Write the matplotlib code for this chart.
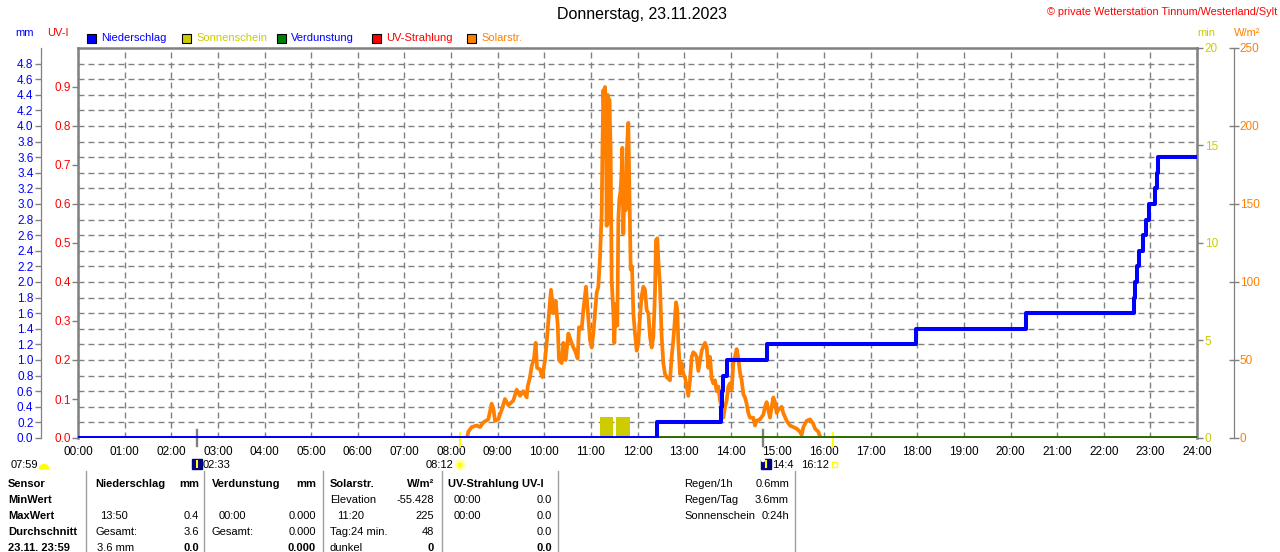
import numpy as np
import matplotlib
matplotlib.use('Agg')
from matplotlib import pyplot as plt
from matplotlib.patches import Rectangle, Circle, Wedge
from matplotlib.lines import Line2D
from matplotlib.transforms import IdentityTransform

plt.rcParams['font.family'] = ['Liberation Sans', 'DejaVu Sans']

W, H = 1280, 552

# ---- Daten ----
hours = list(range(25))
hour_labels = ['%02d:00' % h for h in hours]

# Niederschlag, Tagessumme in mm (Stufen)
rain_t = [0.0, 12.42, 13.80, 13.82, 13.84, 13.91, 14.77, 17.97, 20.33,
          22.65, 22.68, 22.72, 22.76, 22.85, 22.91, 22.96, 23.10, 23.14, 23.17, 24.0]
rain_mm = [0.0, 0.2, 0.4, 0.6, 0.8, 1.0, 1.2, 1.4, 1.6,
           1.8, 2.0, 2.2, 2.4, 2.6, 2.8, 3.0, 3.2, 3.4, 3.6, 3.6]

# Verdunstung / UV
evap_t = [0.0, 24.0]
evap_mm = [0.0, 0.0]
uv_t = [0.0, 24.0]
uv_i = [0.0, 0.0]

# Sonnenschein (min)
sun_start = [11.20, 11.54]
sun_end = [11.47, 11.84]
sun_min = [1.1, 1.1]

# Solarstrahlung W/m2
solar_t = [8.33, 8.350, 8.372, 8.443, 8.551, 8.622, 8.694, 8.801, 8.872, 8.908, 8.944,
           9.015, 9.087, 9.158, 9.230, 9.337, 9.409, 9.480, 9.552, 9.623, 9.645,
           9.694, 9.730, 9.780, 9.816, 9.845, 9.909, 9.959, 10.016, 10.052, 10.102,
           10.145, 10.195, 10.245, 10.288, 10.316, 10.374, 10.409, 10.459, 10.517,
           10.574, 10.624, 10.660, 10.716, 10.745, 10.803, 10.838, 10.895, 10.931,
           10.981, 11.017,
           11.053, 11.088, 11.124, 11.160, 11.196, 11.232, 11.246, 11.267, 11.289,
           11.303, 11.324, 11.339, 11.360, 11.374, 11.396, 11.424, 11.446, 11.482,
           11.503, 11.532, 11.567, 11.589, 11.610, 11.639, 11.660, 11.675, 11.696,
           11.718, 11.746, 11.775, 11.803, 11.832, 11.854, 11.882, 11.911, 11.946,
           11.982, 12.018, 12.054, 12.090, 12.125, 12.161, 12.197, 12.233, 12.268,
           12.304, 12.340, 12.375, 12.397, 12.425, 12.447, 12.483, 12.518, 12.554,
           12.590, 12.626, 12.661, 12.697, 12.733, 12.769, 12.804, 12.826, 12.854,
           12.876, 12.912, 12.947, 12.983, 13.019, 13.055, 13.090, 13.126, 13.162,
           13.197, 13.233, 13.269, 13.305,
           13.377, 13.448, 13.484, 13.519, 13.555, 13.591, 13.627, 13.662, 13.698,
           13.734, 13.769, 13.805, 13.841, 13.877, 13.912, 13.948, 13.984, 14.020,
           14.055, 14.091, 14.127, 14.163, 14.198, 14.234, 14.270, 14.306, 14.341,
           14.377, 14.413, 14.484, 14.520, 14.556, 14.627, 14.699, 14.735, 14.770,
           14.806, 14.842, 14.877, 14.913, 14.949, 14.985, 15.020, 15.056, 15.092,
           15.127, 15.199, 15.271, 15.342, 15.414, 15.485, 15.521, 15.557, 15.628,
           15.700, 15.771, 15.807, 15.843, 15.878, 15.914, 15.950]
solar_w = [0, 1, 4, 7, 8, 7, 10, 12, 22, 19, 11,
           12, 18, 25, 21, 24, 31, 27, 30, 26, 33,
           39, 46, 51, 61, 45, 44, 39, 50, 61, 80,
           95, 80, 88, 73, 50, 48, 61, 50, 67,
           62, 58, 56, 51, 71, 70, 82, 97, 82,
           63, 58,
           67, 80, 93, 97, 116, 144, 180, 223, 204,
           225, 193, 136, 220, 138, 217, 185, 101, 80,
           61, 86, 72, 140, 153, 159, 172, 186, 131,
           159, 146, 187, 202, 148, 108, 110, 80, 67,
           56, 61, 78, 91, 97, 95, 82, 80, 65,
           58, 65, 93, 127, 128, 114, 97, 65, 48,
           41, 39, 38, 37, 52, 63, 77, 87, 82,
           61, 41, 48, 41, 39, 33, 27, 37, 52,
           55, 54, 52, 43,
           56, 61, 58, 45, 52, 38, 35, 37, 30,
           33, 24, 20, 13, 20, 24, 33, 35, 31,
           48, 52, 57, 51, 42, 37, 28, 26, 22,
           16, 13, 13, 8, 11, 12, 15, 20, 23,
           18, 13, 20, 26, 23, 16, 18, 19, 20,
           16, 11, 8, 7, 6, 4, 2, 7, 11,
           12, 9, 6, 5, 4, 1, 0]

# Sonne / Mond Zeiten (h)
moon_t = [2.55, 14.69]
sunrise_t = [8.20, 16.20]

GRAY = '#808080'
BLUE = '#0000ff'
OLIVE = '#cccc00'
GREEN = '#008000'
RED = '#ff0000'
ORANGE = '#ff8000'


def fx(px):
    return px / W


def fy(py):
    return 1 - py / H


fig = plt.figure(figsize=(12.8, 5.52), dpi=100)
rect = [fx(78), fy(438), (1197 - 78) / W, (438 - 48) / H]

# Hauptachse: mm + Raster
ax = fig.add_axes(rect)
ax.set_xlim(0, 24)
ax.set_ylim(0, 5)
ax.set_xticks(hours)
ax.set_xticklabels(hour_labels)
ax.set_yticks(np.round(np.arange(0, 4.81, 0.2), 1))
ax.set_yticklabels(['%.1f' % v for v in np.arange(0, 4.81, 0.2)])
ax.grid(True, color=GRAY, linestyle=(0, (4.3, 2.9)), linewidth=1.0)
ax.tick_params(axis='x', length=0, pad=6, labelsize=8.5)
ax.tick_params(axis='y', colors=GRAY, labelcolor=BLUE, length=4, width=1, pad=1.5, labelsize=8.5)
for s in ['top', 'right', 'bottom']:
    ax.spines[s].set_visible(False)
ax.spines['left'].set_position(('outward', 26.6))
ax.spines['left'].set_color(GRAY)
ax.spines['left'].set_linewidth(0.9)

# UV-I links
ax_uv = ax.twinx()
ax_uv.set_ylim(0, 1)
ax_uv.yaxis.tick_left()
ax_uv.set_yticks(np.round(np.arange(0, 0.91, 0.1), 1))
ax_uv.set_yticklabels(['%.1f' % v for v in np.arange(0, 0.91, 0.1)])
ax_uv.tick_params(axis='y', colors=GRAY, labelcolor=RED, length=4.5, width=1, pad=0.8, labelsize=8.5)
for s in ['right', 'bottom']:
    ax_uv.spines[s].set_visible(False)
for s in ['left', 'top']:
    ax_uv.spines[s].set_color(GRAY)
    ax_uv.spines[s].set_linewidth(1.8)

# Sonnenschein rechts (min)
ax_min = ax.twinx()
ax_min.set_ylim(0, 20)
ax_min.set_yticks([0, 5, 10, 15, 20])
ax_min.tick_params(axis='y', colors=GRAY, labelcolor=OLIVE, length=4.5, width=1, pad=1, labelsize=8.5)
for s in ['left', 'top', 'bottom']:
    ax_min.spines[s].set_visible(False)
ax_min.spines['right'].set_color(GRAY)
ax_min.spines['right'].set_linewidth(1.8)
ax_min.bar(sun_start, sun_min, width=np.subtract(sun_end, sun_start), align='edge',
           color=OLIVE, linewidth=0)

# Solarstrahlung W/m2
ax_sol = ax.twinx()
ax_sol.set_ylim(0, 250)
ax_sol.set_yticks([0, 50, 100, 150, 200, 250])
ax_sol.tick_params(axis='y', colors=GRAY, labelcolor=ORANGE, direction='inout',
                   length=6.5, width=1, pad=1, labelsize=8.5)
for s in ['left', 'top', 'bottom']:
    ax_sol.spines[s].set_visible(False)
ax_sol.spines['right'].set_position(('outward', 26.6))
ax_sol.spines['right'].set_color(GRAY)
ax_sol.spines['right'].set_linewidth(0.9)
ax_sol.plot(solar_t, solar_w, color=ORANGE, linewidth=2.7)

# Niederschlag / Verdunstung ganz oben
ax_top = ax.twinx()
ax_top.set_ylim(0, 5)
ax_top.axis('off')
ax_top.plot(uv_t, uv_i, color=RED, linewidth=2.6)
ax_top.plot(evap_t, evap_mm, color=GREEN, linewidth=2.6)
ax_top.step(rain_t, rain_mm, where='post', color=BLUE, linewidth=2.9)

# Mond- und Sonnenmarken unter der Achse
tr = ax.get_xaxis_transform()
for t in moon_t:
    ax.plot([t, t], [0.02, -0.021], color=GRAY, linewidth=1.7, transform=tr, clip_on=False)
for t in sunrise_t:
    ax.plot([t, t], [0.013, -0.023], color='#ffff00', linewidth=1.4, transform=tr, clip_on=False)

# Titel und Beschriftungen
fig.text(fx(642), fy(15), 'Donnerstag, 23.11.2023', ha='center', va='center', fontsize=11.5)
fig.text(fx(1277), fy(12), '\u00a9 private Wetterstation Tinnum/Westerland/Sylt', ha='right',
         va='center', fontsize=7.8, color=RED)
fig.text(fx(15), fy(33), 'mm', va='center', fontsize=8, color=BLUE)
fig.text(fx(47), fy(33), 'UV-I', va='center', fontsize=8, color=RED)
fig.text(fx(1197), fy(33), 'min', va='center', fontsize=8, color=OLIVE)
fig.text(fx(1234), fy(33), 'W/m\u00b2', va='center', fontsize=8, color=ORANGE)

legend = [('Niederschlag', BLUE, BLUE, 87), ('Sonnenschein', OLIVE, OLIVE, 182),
          ('Verdunstung', GREEN, BLUE, 277), ('UV-Strahlung', RED, RED, 372),
          ('Solarstr.', ORANGE, ORANGE, 467)]
idt = IdentityTransform()
for name, fc, tc, x0 in legend:
    fig.add_artist(Rectangle((x0, H - 43), 9, 9, facecolor=fc, edgecolor='black',
                             linewidth=0.8, transform=idt))
    fig.text(fx(x0 + 14), fy(38), name, va='center', fontsize=8, color=tc)

# Zeiten unter der Achse
ty = 465
fig.text(fx(11), fy(ty), '07:59', va='center', fontsize=8)
fig.add_artist(Wedge((44, H - 469), 4.5, 0, 180, color='#ffff00', transform=idt))
fig.add_artist(Rectangle((192, H - 469), 10, 10, color='#000080', transform=idt))
fig.add_artist(Line2D([197, 197], [H - 461, H - 467], color='#ffff00', linewidth=1.5, transform=idt))
fig.text(fx(203), fy(ty), '02:33', va='center', fontsize=8)
fig.text(fx(426), fy(ty), '08:12', va='center', fontsize=8)
fig.add_artist(Circle((460, H - 465), 4, facecolor='#ffff00', edgecolor='#ffffa0',
                      linewidth=2, transform=idt))
fig.add_artist(Rectangle((761, H - 469), 10, 10, color='#000080', transform=idt))
fig.add_artist(Line2D([766, 766], [H - 467, H - 461], color='#ffff00', linewidth=1.5, transform=idt))
fig.add_artist(Circle((763, H - 460), 1.5, color='white', transform=idt))
fig.text(fx(772), fy(ty), '14:4', va='center', fontsize=8)
fig.text(fx(801), fy(ty), '16:12', va='center', fontsize=8)
fig.add_artist(Rectangle((832, H - 467), 5, 5, facecolor='none', edgecolor='#ffff00',
                         linewidth=1, transform=idt))

# Tabelle
for xs in [86, 204, 323, 442, 558, 795]:
    fig.add_artist(Line2D([fx(xs), fx(xs)], [fy(471), 0], color='#a0a0a0', linewidth=1))

rows = [484, 500, 516, 532, 548]
table = [
    (8, 0, 'Sensor', 'left', True), (8, 1, 'MinWert', 'left', True),
    (8, 2, 'MaxWert', 'left', True), (8, 3, 'Durchschnitt', 'left', True),
    (8, 4, '23.11. 23:59', 'left', True),
    (95, 0, 'Niederschlag', 'left', True), (199, 0, 'mm', 'right', True),
    (100, 2, '13:50', 'left', False), (199, 2, '0.4', 'right', False),
    (95, 3, 'Gesamt:', 'left', False), (199, 3, '3.6', 'right', False),
    (97, 4, '3.6 mm', 'left', False), (199, 4, '0.0', 'right', True),
    (212, 0, 'Verdunstung', 'left', True), (316, 0, 'mm', 'right', True),
    (219, 2, '00:00', 'left', False), (316, 2, '0.000', 'right', False),
    (212, 3, 'Gesamt:', 'left', False), (316, 3, '0.000', 'right', False),
    (316, 4, '0.000', 'right', True),
    (330, 0, 'Solarstr.', 'left', True), (434, 0, 'W/m\u00b2', 'right', True),
    (330, 1, 'Elevation', 'left', False), (434, 1, '-55.428', 'right', False),
    (337, 2, '11:20', 'left', False), (434, 2, '225', 'right', False),
    (330, 3, 'Tag:24 min.', 'left', False), (434, 3, '48', 'right', False),
    (330, 4, 'dunkel', 'left', False), (434, 4, '0', 'right', True),
    (448, 0, 'UV-Strahlung UV-I', 'left', True),
    (454, 1, '00:00', 'left', False), (552, 1, '0.0', 'right', False),
    (454, 2, '00:00', 'left', False), (552, 2, '0.0', 'right', False),
    (552, 3, '0.0', 'right', False), (552, 4, '0.0', 'right', True),
    (684, 0, 'Regen/1h', 'left', False), (789, 0, '0.6mm', 'right', False),
    (684, 1, 'Regen/Tag', 'left', False), (789, 1, '3.6mm', 'right', False),
    (684, 2, 'Sonnenschein', 'left', False), (789, 2, '0:24h', 'right', False),
]
for x, r, txt, ha, bold in table:
    fig.text(fx(x), fy(rows[r]), txt, ha=ha, va='center', fontsize=8,
             fontweight='bold' if bold else 'normal')

fig.savefig('out.png', dpi=100)
